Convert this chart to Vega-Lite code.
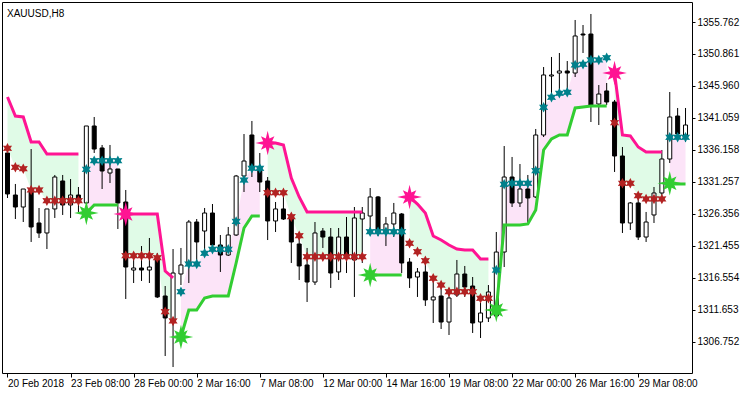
{
  "$schema": "https://vega.github.io/schema/vega-lite/v6.json",
  "width": 690,
  "height": 371,
  "autosize": {"type": "none"},
  "padding": {"left": 2, "top": 2, "right": 58, "bottom": 21},
  "background": "white",
  "config": {
    "view": {"stroke": "black", "strokeWidth": 1},
    "font": "Liberation Sans",
    "axis": {"labelFont": "Liberation Sans", "labelFontSize": 10, "labelColor": "black", "tickColor": "black", "domain": false, "grid": false, "title": null, "labelOverlap": false},
    "axisY": {"labelOverlap": false, "labelFlush": false}
  },
  "title": {"text": "XAUUSD,H8", "anchor": "start", "frame": "group", "orient": "top", "offset": -25, "baseline": "alphabetic", "dx": 5, "font": "Liberation Sans", "fontSize": 10, "fontWeight": "normal", "color": "black"},
  "datasets": {
    "candles": [
      {"i":0,"o":1335.68,"h":1336.45,"l":1328.78,"c":1329.40},
      {"i":1,"o":1329.24,"h":1330.93,"l":1325.56,"c":1327.40},
      {"i":2,"o":1327.40,"h":1330.16,"l":1325.10,"c":1330.16},
      {"i":3,"o":1329.70,"h":1336.29,"l":1322.04,"c":1324.34},
      {"i":4,"o":1324.95,"h":1327.25,"l":1322.65,"c":1323.42},
      {"i":5,"o":1323.42,"h":1327.10,"l":1320.96,"c":1327.10},
      {"i":6,"o":1327.10,"h":1332.31,"l":1325.72,"c":1332.00},
      {"i":7,"o":1331.39,"h":1332.31,"l":1326.18,"c":1327.71},
      {"i":8,"o":1327.71,"h":1331.69,"l":1325.72,"c":1329.24},
      {"i":9,"o":1329.24,"h":1330.47,"l":1326.64,"c":1328.17},
      {"i":10,"o":1328.02,"h":1339.82,"l":1327.86,"c":1339.82},
      {"i":11,"o":1339.82,"h":1341.20,"l":1335.68,"c":1336.29},
      {"i":12,"o":1336.45,"h":1336.91,"l":1330.16,"c":1332.92},
      {"i":13,"o":1332.61,"h":1336.91,"l":1331.08,"c":1333.23},
      {"i":14,"o":1333.23,"h":1333.23,"l":1324.03,"c":1328.02},
      {"i":15,"o":1328.17,"h":1330.01,"l":1313.30,"c":1318.20},
      {"i":16,"o":1317.74,"h":1320.50,"l":1315.75,"c":1318.05},
      {"i":17,"o":1318.05,"h":1321.42,"l":1316.06,"c":1317.74},
      {"i":18,"o":1317.74,"h":1322.65,"l":1315.75,"c":1318.20},
      {"i":19,"o":1319.74,"h":1320.35,"l":1313.45,"c":1313.61},
      {"i":20,"o":1313.76,"h":1315.29,"l":1304.56,"c":1310.39},
      {"i":21,"o":1309.77,"h":1320.96,"l":1302.87,"c":1317.28},
      {"i":22,"o":1317.13,"h":1321.12,"l":1315.44,"c":1318.51},
      {"i":23,"o":1318.51,"h":1325.41,"l":1315.75,"c":1325.10},
      {"i":24,"o":1325.10,"h":1325.56,"l":1318.20,"c":1322.04},
      {"i":25,"o":1323.72,"h":1327.25,"l":1320.50,"c":1326.48},
      {"i":26,"o":1326.48,"h":1327.86,"l":1321.42,"c":1321.58},
      {"i":27,"o":1321.58,"h":1323.11,"l":1317.44,"c":1320.04},
      {"i":28,"o":1320.04,"h":1324.34,"l":1319.89,"c":1323.11},
      {"i":29,"o":1323.11,"h":1332.31,"l":1322.96,"c":1332.15},
      {"i":30,"o":1332.15,"h":1338.59,"l":1329.70,"c":1334.45},
      {"i":31,"o":1338.44,"h":1340.59,"l":1332.00,"c":1333.53},
      {"i":32,"o":1333.53,"h":1335.68,"l":1329.70,"c":1331.23},
      {"i":33,"o":1331.39,"h":1332.00,"l":1322.34,"c":1325.26},
      {"i":34,"o":1325.26,"h":1328.17,"l":1323.57,"c":1327.10},
      {"i":35,"o":1327.10,"h":1329.55,"l":1325.41,"c":1325.56},
      {"i":36,"o":1325.87,"h":1326.48,"l":1318.82,"c":1322.04},
      {"i":37,"o":1321.73,"h":1323.11,"l":1316.21,"c":1318.36},
      {"i":38,"o":1318.51,"h":1321.12,"l":1312.84,"c":1315.90},
      {"i":39,"o":1315.90,"h":1325.10,"l":1315.44,"c":1323.42},
      {"i":40,"o":1323.72,"h":1324.18,"l":1321.12,"c":1322.80},
      {"i":41,"o":1322.80,"h":1324.18,"l":1314.99,"c":1317.28},
      {"i":42,"o":1317.44,"h":1324.18,"l":1316.21,"c":1322.80},
      {"i":43,"o":1322.80,"h":1325.87,"l":1317.28,"c":1319.58},
      {"i":44,"o":1319.28,"h":1327.40,"l":1313.61,"c":1325.72},
      {"i":45,"o":1325.56,"h":1327.40,"l":1318.82,"c":1326.48},
      {"i":46,"o":1326.02,"h":1330.31,"l":1323.42,"c":1328.94},
      {"i":47,"o":1328.94,"h":1329.09,"l":1322.96,"c":1323.57},
      {"i":48,"o":1323.72,"h":1325.87,"l":1321.42,"c":1324.80},
      {"i":49,"o":1324.80,"h":1328.02,"l":1322.80,"c":1326.48},
      {"i":50,"o":1326.33,"h":1326.48,"l":1317.28,"c":1318.82},
      {"i":51,"o":1318.97,"h":1319.58,"l":1314.99,"c":1316.52},
      {"i":52,"o":1316.67,"h":1318.05,"l":1313.61,"c":1317.44},
      {"i":53,"o":1317.44,"h":1319.58,"l":1312.23,"c":1313.15},
      {"i":54,"o":1313.15,"h":1315.90,"l":1309.62,"c":1313.61},
      {"i":55,"o":1313.76,"h":1315.14,"l":1308.70,"c":1309.77},
      {"i":56,"o":1309.77,"h":1314.99,"l":1307.78,"c":1313.45},
      {"i":57,"o":1313.91,"h":1319.28,"l":1313.61,"c":1317.13},
      {"i":58,"o":1317.13,"h":1318.36,"l":1313.61,"c":1315.14},
      {"i":59,"o":1315.29,"h":1316.67,"l":1308.09,"c":1309.62},
      {"i":60,"o":1309.77,"h":1312.69,"l":1307.32,"c":1311.15},
      {"i":61,"o":1310.39,"h":1315.44,"l":1309.77,"c":1314.37},
      {"i":62,"o":1310.69,"h":1323.57,"l":1310.39,"c":1320.50},
      {"i":63,"o":1320.50,"h":1336.75,"l":1318.20,"c":1332.00},
      {"i":64,"o":1332.00,"h":1335.07,"l":1327.40,"c":1328.02},
      {"i":65,"o":1328.02,"h":1333.99,"l":1327.40,"c":1330.16},
      {"i":66,"o":1330.16,"h":1332.31,"l":1325.10,"c":1328.78},
      {"i":67,"o":1328.94,"h":1339.36,"l":1328.78,"c":1338.44},
      {"i":68,"o":1338.44,"h":1348.86,"l":1338.13,"c":1347.64},
      {"i":69,"o":1347.48,"h":1350.40,"l":1344.88,"c":1347.64},
      {"i":70,"o":1347.94,"h":1351.01,"l":1345.34,"c":1348.25},
      {"i":71,"o":1348.25,"h":1349.78,"l":1344.88,"c":1347.94},
      {"i":72,"o":1347.94,"h":1356.07,"l":1347.33,"c":1353.62},
      {"i":73,"o":1353.92,"h":1355.30,"l":1351.01,"c":1353.77},
      {"i":74,"o":1353.92,"h":1356.99,"l":1340.43,"c":1343.04},
      {"i":75,"o":1343.19,"h":1346.10,"l":1339.97,"c":1344.72},
      {"i":76,"o":1345.19,"h":1346.41,"l":1343.04,"c":1343.50},
      {"i":77,"o":1343.50,"h":1343.81,"l":1332.77,"c":1335.22},
      {"i":78,"o":1335.22,"h":1336.60,"l":1323.42,"c":1324.95},
      {"i":79,"o":1324.95,"h":1328.17,"l":1323.88,"c":1328.02},
      {"i":80,"o":1328.02,"h":1328.94,"l":1322.34,"c":1322.80},
      {"i":81,"o":1322.80,"h":1326.64,"l":1322.04,"c":1325.10},
      {"i":82,"o":1326.18,"h":1330.47,"l":1324.95,"c":1329.55},
      {"i":83,"o":1329.55,"h":1336.14,"l":1329.24,"c":1334.76},
      {"i":84,"o":1334.76,"h":1345.03,"l":1334.15,"c":1341.20},
      {"i":85,"o":1341.35,"h":1342.58,"l":1337.67,"c":1338.59},
      {"i":86,"o":1338.44,"h":1342.58,"l":1337.37,"c":1339.97}
    ],
    "ind": [
      {"i":0,"seg":0,"t":"dn","line":1344.27,"star":1336.40},
      {"i":1,"seg":0,"t":"dn","line":1341.35,"star":1333.49},
      {"i":2,"seg":0,"t":"dn","line":1341.20,"star":1333.27},
      {"i":3,"seg":0,"t":"dn","line":1337.37,"star":1330.01},
      {"i":4,"seg":0,"t":"dn","line":1337.37,"star":1330.01},
      {"i":5,"seg":0,"t":"dn","line":1335.53,"star":1328.37},
      {"i":6,"seg":0,"t":"dn","line":1335.53,"star":1328.37},
      {"i":7,"seg":0,"t":"dn","line":1335.53,"star":1328.37},
      {"i":8,"seg":0,"t":"dn","line":1335.53,"star":1328.37},
      {"i":9,"seg":0,"t":"dn","line":1335.53,"star":1328.37},
      {"i":10,"seg":1,"t":"up","line":1326.48,"star":1333.18},
      {"i":11,"seg":1,"t":"up","line":1327.71,"star":1334.50},
      {"i":12,"seg":1,"t":"up","line":1327.71,"star":1334.50},
      {"i":13,"seg":1,"t":"up","line":1327.71,"star":1334.50},
      {"i":14,"seg":1,"t":"up","line":1327.71,"star":1334.50},
      {"i":15,"seg":2,"t":"dn","line":1326.33,"star":1319.94},
      {"i":16,"seg":2,"t":"dn","line":1326.33,"star":1319.94},
      {"i":17,"seg":2,"t":"dn","line":1326.33,"star":1319.94},
      {"i":18,"seg":2,"t":"dn","line":1326.33,"star":1319.94},
      {"i":19,"seg":2,"t":"dn","line":1326.33,"star":1319.63},
      {"i":20,"seg":2,"t":"dn","line":1317.59,"star":1311.35},
      {"i":21,"seg":2,"t":"dn","line":1316.52,"star":1309.93},
      {"i":22,"seg":3,"t":"up","line":1307.47,"star":1314.42},
      {"i":23,"seg":3,"t":"up","line":1311.61,"star":1318.66},
      {"i":24,"seg":3,"t":"up","line":1311.61,"star":1318.66},
      {"i":25,"seg":3,"t":"up","line":1313.45,"star":1320.30},
      {"i":26,"seg":3,"t":"up","line":1313.76,"star":1320.92},
      {"i":27,"seg":3,"t":"up","line":1313.76,"star":1320.92},
      {"i":28,"seg":3,"t":"up","line":1313.76,"star":1320.92},
      {"i":29,"seg":3,"t":"up","line":1318.82,"star":1325.18},
      {"i":30,"seg":3,"t":"up","line":1324.18,"star":1331.54},
      {"i":31,"seg":3,"t":"up","line":1326.02,"star":1333.34},
      {"i":32,"seg":3,"t":"up","line":1326.02,"star":1333.34},
      {"i":33,"seg":4,"t":"dn","line":1337.21,"star":1329.59},
      {"i":34,"seg":4,"t":"dn","line":1337.21,"star":1329.59},
      {"i":35,"seg":4,"t":"dn","line":1336.91,"star":1329.59},
      {"i":36,"seg":4,"t":"dn","line":1331.85,"star":1325.92},
      {"i":37,"seg":4,"t":"dn","line":1328.94,"star":1323.00},
      {"i":38,"seg":4,"t":"dn","line":1326.64,"star":1319.78},
      {"i":39,"seg":4,"t":"dn","line":1326.64,"star":1319.78},
      {"i":40,"seg":4,"t":"dn","line":1326.64,"star":1319.78},
      {"i":41,"seg":4,"t":"dn","line":1326.64,"star":1319.78},
      {"i":42,"seg":4,"t":"dn","line":1326.64,"star":1319.78},
      {"i":43,"seg":4,"t":"dn","line":1326.64,"star":1319.78},
      {"i":44,"seg":4,"t":"dn","line":1326.64,"star":1319.78},
      {"i":45,"seg":4,"t":"dn","line":1326.64,"star":1319.78},
      {"i":46,"seg":5,"t":"up","line":1316.98,"star":1323.62},
      {"i":47,"seg":5,"t":"up","line":1316.98,"star":1323.62},
      {"i":48,"seg":5,"t":"up","line":1316.98,"star":1323.62},
      {"i":49,"seg":5,"t":"up","line":1316.98,"star":1323.62},
      {"i":50,"seg":5,"t":"up","line":1316.98,"star":1323.62},
      {"i":51,"seg":6,"t":"dn","line":1328.94,"star":1321.84},
      {"i":52,"seg":6,"t":"dn","line":1327.86,"star":1320.55},
      {"i":53,"seg":6,"t":"dn","line":1326.48,"star":1319.17},
      {"i":54,"seg":6,"t":"dn","line":1322.96,"star":1316.47},
      {"i":55,"seg":6,"t":"dn","line":1322.34,"star":1315.44},
      {"i":56,"seg":6,"t":"dn","line":1321.58,"star":1314.42},
      {"i":57,"seg":6,"t":"dn","line":1320.96,"star":1314.42},
      {"i":58,"seg":6,"t":"dn","line":1320.81,"star":1314.42},
      {"i":59,"seg":6,"t":"dn","line":1320.81,"star":1314.42},
      {"i":60,"seg":6,"t":"dn","line":1319.43,"star":1313.41},
      {"i":61,"seg":6,"t":"dn","line":1319.43,"star":1313.41},
      {"i":62,"seg":7,"t":"up","line":1311.61,"star":1317.74},
      {"i":63,"seg":7,"t":"up","line":1324.64,"star":1330.88},
      {"i":64,"seg":7,"t":"up","line":1324.64,"star":1331.04},
      {"i":65,"seg":7,"t":"up","line":1324.64,"star":1331.04},
      {"i":66,"seg":7,"t":"up","line":1324.80,"star":1331.04},
      {"i":67,"seg":7,"t":"up","line":1326.94,"star":1332.97},
      {"i":68,"seg":7,"t":"up","line":1336.14,"star":1342.69},
      {"i":69,"seg":7,"t":"up","line":1337.83,"star":1344.22},
      {"i":70,"seg":7,"t":"up","line":1338.44,"star":1344.83},
      {"i":71,"seg":7,"t":"up","line":1338.44,"star":1344.99},
      {"i":72,"seg":7,"t":"up","line":1342.58,"star":1349.17},
      {"i":73,"seg":7,"t":"up","line":1342.73,"star":1349.28},
      {"i":74,"seg":7,"t":"up","line":1342.89,"star":1349.94},
      {"i":75,"seg":7,"t":"up","line":1342.89,"star":1349.94},
      {"i":76,"seg":7,"t":"up","line":1342.89,"star":1350.29},
      {"i":77,"seg":8,"t":"dn","line":1347.94,"star":1340.33},
      {"i":78,"seg":8,"t":"dn","line":1338.44,"star":1331.04},
      {"i":79,"seg":8,"t":"dn","line":1338.29,"star":1331.04},
      {"i":80,"seg":8,"t":"dn","line":1336.60,"star":1329.13},
      {"i":81,"seg":8,"t":"dn","line":1335.83,"star":1328.63},
      {"i":82,"seg":8,"t":"dn","line":1335.83,"star":1328.63},
      {"i":83,"seg":8,"t":"dn","line":1335.83,"star":1328.63},
      {"i":84,"seg":9,"t":"up","line":1330.93,"star":1338.09},
      {"i":85,"seg":9,"t":"up","line":1330.93,"star":1338.09},
      {"i":86,"seg":9,"t":"up","line":1330.93,"star":1338.09}
    ],
    "big": [
      {"i":10,"t":"up","v":1326.48},
      {"i":15,"t":"dn","v":1326.33},
      {"i":22,"t":"up","v":1307.47},
      {"i":33,"t":"dn","v":1337.21},
      {"i":46,"t":"up","v":1316.98},
      {"i":51,"t":"dn","v":1328.94},
      {"i":62,"t":"up","v":1311.61},
      {"i":77,"t":"dn","v":1347.94},
      {"i":84,"t":"up","v":1331.04}
    ]
  },
  "encoding": {
    "x": {"field": "i", "type": "quantitative",
      "scale": {"domain": [-0.0625, 86.1875], "nice": false, "zero": false},
      "axis": {"orient": "bottom", "values": [0, 8, 16, 24, 32, 40, 48, 56, 64, 72, 80],
        "labelExpr": "['20 Feb 2018','23 Feb 08:00','28 Feb 00:00','2 Mar 16:00','7 Mar 08:00','12 Mar 00:00','14 Mar 16:00','19 Mar 08:00','22 Mar 00:00','26 Mar 16:00','29 Mar 08:00'][round(datum.value/8)]",
        "labelAlign": "left", "labelBaseline": "top", "labelPadding": 1, "tickSize": 4, "labelFlush": false, "labelOverlap": false, "title": null}}
  },
  "layer": [
    {
      "data": {"name": "ind"},
      "mark": {"type": "area", "clip": true, "opacity": 1, "interpolate": "linear"},
      "encoding": {
        "y": {"field": "line", "type": "quantitative",
          "scale": {"domain": [1301.954, 1358.828], "nice": false, "zero": false},
          "axis": {"orient": "right", "values": [1355.762, 1350.861, 1345.96, 1341.059, 1336.158, 1331.257, 1326.356, 1321.455, 1316.554, 1311.653, 1306.752], "format": ".3f", "tickSize": 3, "labelPadding": 2, "labelAlign": "left", "labelBaseline": "middle", "labelOverlap": false, "labelFlush": false, "title": null}},
        "y2": {"field": "star"},
        "detail": {"field": "seg", "type": "nominal"},
        "color": {"field": "t", "type": "nominal", "scale": {"domain": ["dn", "up"], "range": ["#E0FBE7", "#FCE4F8"]}, "legend": null}
      }
    },
    {
      "data": {"name": "candles"},
      "mark": {"type": "rule", "color": "black", "strokeWidth": 1, "clip": true},
      "encoding": {
        "y": {"field": "l", "type": "quantitative",
          "axis": {"orient": "right", "values": [1355.762, 1350.861, 1345.96, 1341.059, 1336.158, 1331.257, 1326.356, 1321.455, 1316.554, 1311.653, 1306.752], "format": ".3f", "tickSize": 3, "labelPadding": 2, "labelAlign": "left", "labelBaseline": "middle", "labelOverlap": false, "labelFlush": false, "title": null}},
        "y2": {"field": "h"}
      }
    },
    {
      "data": {"name": "candles"},
      "mark": {"type": "bar", "width": 4, "stroke": "black", "strokeWidth": 1, "clip": true},
      "encoding": {
        "y": {"field": "o", "type": "quantitative",
          "axis": {"orient": "right", "values": [1355.762, 1350.861, 1345.96, 1341.059, 1336.158, 1331.257, 1326.356, 1321.455, 1316.554, 1311.653, 1306.752], "format": ".3f", "tickSize": 3, "labelPadding": 2, "labelAlign": "left", "labelBaseline": "middle", "labelOverlap": false, "labelFlush": false, "title": null}},
        "y2": {"field": "c"},
        "fill": {"condition": {"test": "datum.c < datum.o", "value": "black"}, "value": "white"}
      }
    },
    {
      "data": {"name": "ind"},
      "mark": {"type": "line", "strokeWidth": 3, "clip": true, "interpolate": "linear"},
      "encoding": {
        "y": {"field": "line", "type": "quantitative",
          "axis": {"orient": "right", "values": [1355.762, 1350.861, 1345.96, 1341.059, 1336.158, 1331.257, 1326.356, 1321.455, 1316.554, 1311.653, 1306.752], "format": ".3f", "tickSize": 3, "labelPadding": 2, "labelAlign": "left", "labelBaseline": "middle", "labelOverlap": false, "labelFlush": false, "title": null}},
        "detail": {"field": "seg", "type": "nominal"},
        "stroke": {"field": "t", "type": "nominal", "scale": {"domain": ["dn", "up"], "range": ["#FF1493", "#32CD32"]}, "legend": null}
      }
    },
    {
      "data": {"name": "ind"},
      "mark": {"type": "point", "filled": true, "opacity": 1, "clip": true, "size": 110,
        "shape": "M0,-1L0.27,-0.47L0.87,-0.5L0.54,0L0.87,0.5L0.27,0.47L0,1L-0.27,0.47L-0.87,0.5L-0.54,0L-0.87,-0.5L-0.27,-0.47Z"},
      "encoding": {
        "y": {"field": "star", "type": "quantitative",
          "axis": {"orient": "right", "values": [1355.762, 1350.861, 1345.96, 1341.059, 1336.158, 1331.257, 1326.356, 1321.455, 1316.554, 1311.653, 1306.752], "format": ".3f", "tickSize": 3, "labelPadding": 2, "labelAlign": "left", "labelBaseline": "middle", "labelOverlap": false, "labelFlush": false, "title": null}},
        "fill": {"field": "t", "type": "nominal", "scale": {"domain": ["dn", "up"], "range": ["#B22222", "#00808B"]}, "legend": null}
      }
    },
    {
      "data": {"name": "big"},
      "mark": {"type": "point", "filled": true, "opacity": 1, "clip": true, "size": 600,
        "shape": "M0,-1L0.15,-0.36L0.55,-0.55L0.36,-0.15L1,0L0.36,0.15L0.55,0.55L0.15,0.36L0,1L-0.15,0.36L-0.55,0.55L-0.36,0.15L-1,0L-0.36,-0.15L-0.55,-0.55L-0.15,-0.36Z"},
      "encoding": {
        "y": {"field": "v", "type": "quantitative",
          "axis": {"orient": "right", "values": [1355.762, 1350.861, 1345.96, 1341.059, 1336.158, 1331.257, 1326.356, 1321.455, 1316.554, 1311.653, 1306.752], "format": ".3f", "tickSize": 3, "labelPadding": 2, "labelAlign": "left", "labelBaseline": "middle", "labelOverlap": false, "labelFlush": false, "title": null}},
        "color": {"field": "t", "type": "nominal", "scale": {"domain": ["dn", "up"], "range": ["#FF1493", "#32CD32"]}, "legend": null}
      }
    }
  ],
  "resolve": {"scale": {"color": "independent", "fill": "independent", "stroke": "independent"}}
}
